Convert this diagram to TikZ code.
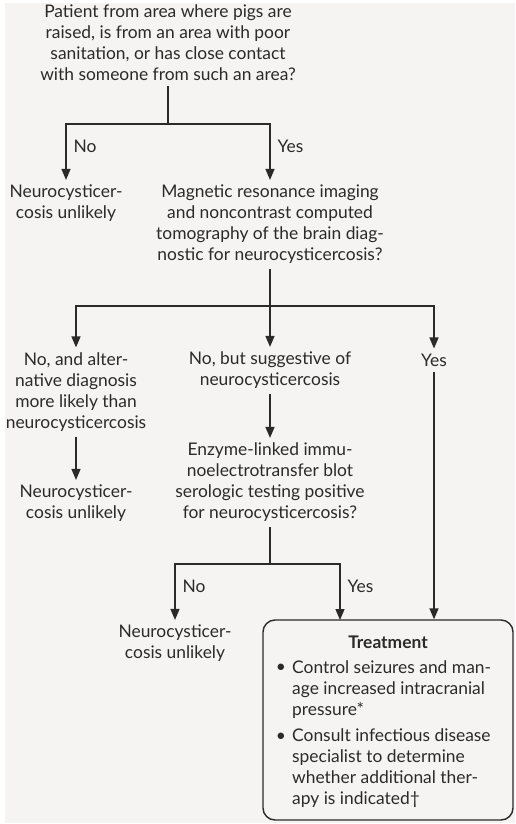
\documentclass[tikz,border=0pt]{standalone}
\usepackage{fontspec}
\setmainfont{Lato}
\usetikzlibrary{arrows.meta,positioning}

\definecolor{ink}{HTML}{2B2A29}
\definecolor{paper}{HTML}{F5F4F2}

\tikzset{
  txt/.style={align=center, inner xsep=0pt, inner ysep=5pt, text=ink},
  line/.style={draw=ink, line width=1.4pt},
  arr/.style={line, -{Triangle[length=11pt,width=9pt]}},
  lbl/.style={text=ink, anchor=west, inner sep=0pt, xshift=7pt},
  box/.style={draw=ink, line width=1.4pt, rounded corners=12pt,
    minimum width=250pt, minimum height=200pt, inner sep=0pt}
}

\begin{document}
\begin{tikzpicture}[x=1pt,y=-1pt,font=\fontsize{17.4}{21}\selectfont]
  \useasboundingbox (0,0) rectangle (516,824);
  \fill[paper] (5,3) rectangle (515,823);

  % first question
  \node[txt] (q1) at (168,42.5) {Patient from area where pigs are\\raised, is from an area with poor\\sanitation, or has close contact\\with someone from such an area?};
  \coordinate (j1) at (168,124);
  \node[txt] (n1) at (66,203.5) {Neurocysticer-\\cosis unlikely};
  \node[txt] (q2) at (270,224.5) {Magnetic resonance imaging\\and noncontrast computed\\tomography of the brain diag-\\nostic for neurocysticercosis?};

  \draw[line] (q1) -- (j1);
  \draw[arr] (j1) -| node[lbl,pos=0.7] {No} (n1);
  \draw[arr] (j1) -| node[lbl,pos=0.7] {Yes} (q2);

  % imaging result
  \coordinate (j2) at (270,306);
  \node[txt] (r1) at (76,392) {No, and alter-\\native diagnosis\\more likely than\\neurocysticercosis};
  \node[txt] (r2) at (270,370.5) {No, but suggestive of\\neurocysticercosis};
  \node[txt] (yes) at (434,360) {Yes};

  \draw[line] (q2) -- (j2);
  \draw[arr] (j2) -| (r1);
  \draw[arr] (j2) -- (r2);
  \draw[arr] (j2) -| (yes);

  \node[txt] (n2) at (76,503.5) {Neurocysticer-\\cosis unlikely};
  \draw[arr] (r1) -- (n2);

  % serology
  \node[txt] (q3) at (270,482.5) {Enzyme-linked immu-\\noelectrotransfer blot\\serologic testing positive\\for neurocysticercosis?};
  \draw[arr] (r2) -- (q3);

  \coordinate (j3) at (270,564);
  \node[txt] (n3) at (175,643.5) {Neurocysticer-\\cosis unlikely};
  \node[box] (tbox) at (388,720) {};
  \coordinate (ty) at (340,620);

  \draw[line] (q3) -- (j3);
  \draw[arr] (j3) -| node[lbl,pos=0.7] {No} (n3);
  \draw[arr] (j3) -| node[lbl,pos=0.7] {Yes} (ty);
  \draw[arr] (yes) -- (yes |- tbox.north);

  % treatment
  \node[txt] (ttl) at (388,642) {\bfseries Treatment};
  \node[txt] (d1) at (281,668) {\textbullet};
  \node[txt,align=left,anchor=west] (b1) at (292,689.5) {Control seizures and man-\\age increased intracranial\\pressure*};
  \node[txt] (d2) at (281,737) {\textbullet};
  \node[txt,align=left,anchor=west] (b2) at (292,768.5) {Consult infectious disease\\specialist to determine\\whether additional ther-\\apy is indicated\textdagger};
\end{tikzpicture}
\end{document}
